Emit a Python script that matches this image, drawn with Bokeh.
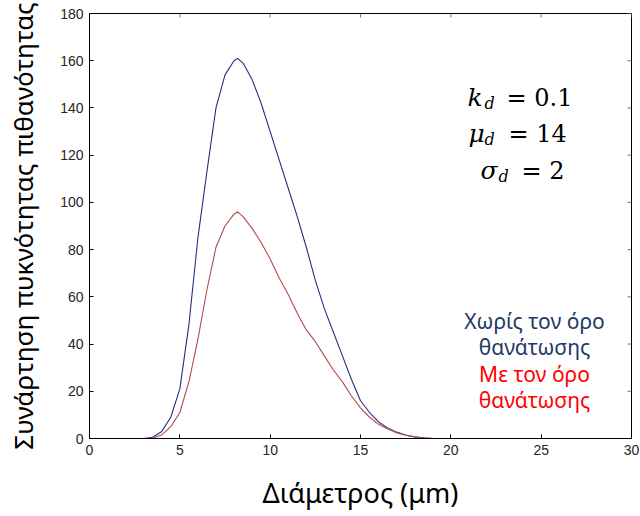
from bokeh.plotting import figure
from bokeh.models import Range1d, Label, FixedTicker
from bokeh.embed import file_html
from bokeh.resources import INLINE

# ---- data ----
diameter = [0, 3.0, 3.5, 4.0, 4.5, 5.0, 5.5, 6.0, 6.5, 7.0, 7.5, 8.0, 8.2, 8.5,
            9.0, 9.5, 10.0, 10.5, 11.0, 11.5, 12.0, 12.5, 13.0, 13.5, 14.0, 14.5,
            15.0, 15.5, 16.0, 16.5, 17.0, 17.5, 18.0, 18.5, 19.0, 30.0]
without_term = [0, 0, 0.5, 3, 9, 21, 48, 85, 113, 140, 154, 160, 161, 159,
                152, 142, 130, 118, 106, 94, 81, 67, 55, 45, 35, 25,
                16, 11, 7, 4.5, 2.7, 1.5, 0.7, 0.3, 0, 0]
with_term = [0, 0, 0.2, 1.5, 5, 11, 24, 42, 63, 81, 90, 95, 96, 94,
             89, 83, 76, 68, 61, 53, 46, 41, 35, 29, 24, 18,
             13, 9, 6, 4, 2.4, 1.4, 0.6, 0.2, 0, 0]

x_ticks = [0, 5, 10, 15, 20, 25, 30]
y_ticks = [0, 20, 40, 60, 80, 100, 120, 140, 160, 180]

x_label = "Διάμετρος (μm)"
y_label = "Συνάρτηση πυκνότητας πιθανότητας"
legend_without = ["Χωρίς τον όρο", "θανάτωσης"]
legend_with = ["Με τον όρο", "θανάτωσης"]
param_vars = ["k", "μ", "σ"]
param_rest = ["= 0.1", "= 14", "= 2"]

X0, X1, Y0, Y1 = 0, 30, 0, 180

p = figure(width=640, height=516,
           x_range=Range1d(X0, X1), y_range=Range1d(Y0, Y1),
           output_backend="svg", toolbar_location=None,
           min_border_left=89, min_border_right=9,
           min_border_top=13, min_border_bottom=78)
p.background_fill_color = "white"
p.border_fill_color = "white"
p.outline_line_color = "black"
p.outline_line_width = 1
p.xgrid.visible = False
p.ygrid.visible = False

tick_font = "Liberation Sans"
for ax, ticks in ((p.xaxis[0], x_ticks), (p.yaxis[0], y_ticks)):
    ax.ticker = FixedTicker(ticks=ticks)
    ax.major_tick_in = 4
    ax.major_tick_out = 0
    ax.minor_tick_line_color = None
    ax.major_label_text_font = tick_font
    ax.major_label_text_font_size = "14px"
    ax.major_label_text_color = "#262626"
    ax.axis_line_color = "black"
    ax.major_tick_line_color = "black"
    ax.axis_label_text_font = "Noto Sans"
    ax.axis_label_text_font_style = "normal"
    ax.axis_label_text_color = "black"

p.xaxis[0].axis_label = x_label
p.xaxis[0].axis_label_text_font_size = "27px"
p.xaxis[0].major_label_standoff = 6
p.xaxis[0].axis_label_standoff = 16
p.yaxis[0].axis_label = y_label
p.yaxis[0].axis_label_text_font_size = "26px"
p.yaxis[0].major_label_standoff = 6
p.yaxis[0].axis_label_standoff = 16

# tick marks on the top and right edges of the box (tick length as a style)
tick_len_x = 4 * (X1 - X0) / 541
tick_len_y = 4 * (Y1 - Y0) / 425
p.segment(x0=x_ticks, y0=[Y1] * len(x_ticks), x1=x_ticks, y1=[Y1 - tick_len_y] * len(x_ticks),
          line_color="#777777", line_width=1)
p.segment(x0=[X1] * len(y_ticks), y0=y_ticks, x1=[X1 - tick_len_x] * len(y_ticks), y1=y_ticks,
          line_color="#777777", line_width=1)

p.line(diameter, without_term, line_color="#2B2B85", line_width=1.1)
p.line(diameter, with_term, line_color="#B5494B", line_width=1.1)

# pixel -> data helpers for annotation placement (reference frame geometry)
def dx(px):
    return (px - 89) / (542 / 30)

def dy(py):
    return (438 - py) / (425 / 180)

# parameter block
rows = [(467, 97, 484, 103, 506),
        (468, 133, 484, 139, 508),
        (480, 170, 498, 176, 521)]
for (vx, vb, sx, sb, rx), var, rest in zip(rows, param_vars, param_rest):
    p.add_layout(Label(x=dx(vx), y=dy(vb), text=var, text_font="DejaVu Serif",
                       text_font_style="italic", text_font_size="25px",
                       text_baseline="alphabetic", text_align="left", text_color="black"))
    p.add_layout(Label(x=dx(sx), y=dy(sb), text="d", text_font="DejaVu Serif",
                       text_font_style="italic", text_font_size="16px",
                       text_baseline="alphabetic", text_align="left", text_color="black"))
    p.add_layout(Label(x=dx(rx), y=dy(vb), text=rest, text_font="DejaVu Serif",
                       text_font_size="24px",
                       text_baseline="alphabetic", text_align="left", text_color="black"))

# text legend
leg = [(legend_without[0], 320, "#1F3864"), (legend_without[1], 346, "#1F3864"),
       (legend_with[0], 373, "#FF0000"), (legend_with[1], 399, "#FF0000")]
for txt, base, col in leg:
    p.add_layout(Label(x=dx(534), y=dy(base), text=txt, text_font="Noto Sans",
                       text_font_size="21px", text_baseline="alphabetic",
                       text_align="center", text_color=col))

open("out.html", "w").write(file_html(p, INLINE))
